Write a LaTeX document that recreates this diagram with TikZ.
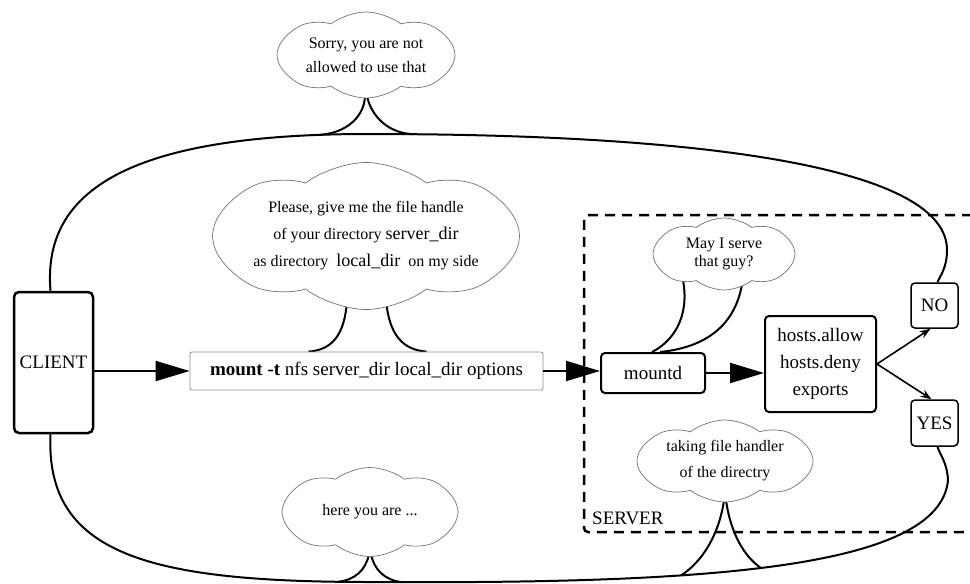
\documentclass[tikz,border=0pt]{standalone}
\usepackage{fontspec}
\setmainfont{Liberation Serif}
\usetikzlibrary{shapes.symbols,arrows.meta,calc}
\pgfdeclarelayer{background}
\pgfsetlayers{background,main}

\begin{document}
\begin{tikzpicture}[x=1pt,y=-1pt,
  box/.style={draw, line width=2pt, rounded corners=4pt, fill=white, inner sep=0pt,
              font=\fontsize{19}{27}\selectfont, align=center},
  thought/.style={cloud, cloud puffs=8, cloud puff arc=75, cloud ignores aspect,
              draw=black!55, line width=0.7pt, fill=white, inner sep=0pt,
              font=\fontsize{16}{24}\selectfont, align=center},
  loopline/.style={line width=2pt},
  tail/.style={line width=2pt},
  bigarrow/.style={line width=2pt, -{Triangle[length=34pt,width=20pt]}},
  smallarrow/.style={line width=1.6pt, -{Stealth[length=11pt,width=8pt]}},
  serverline/.style={line width=2.5pt, dash pattern=on 10pt off 7pt}
]
\useasboundingbox (0,0) rectangle (970,584);

% boxes
\node[box, line width=2.5pt, rounded corners=5pt, minimum width=79pt, minimum height=141pt]
  (client) at (53.5,362.5) {CLIENT};
\node[box, draw=black!45, line width=0.8pt, rounded corners=2pt, minimum width=353pt, minimum height=38pt]
  (mount) at (366.5,371) {\textbf{mount -t} nfs server\_dir local\_dir options};
\node[box, minimum width=104pt, minimum height=40pt] (mountd) at (653,373) {mountd};
\node[box, minimum width=111pt, minimum height=96pt] (hosts) at (820.5,364)
  {hosts.allow\\hosts.deny\\exports};
\node[box, line width=1.5pt, minimum width=47pt, minimum height=45pt] (no) at (934.5,305.5) {NO};
\node[box, line width=1.5pt, minimum width=47pt, minimum height=46pt] (yes) at (934.5,423) {YES};

% thought clouds
\node[thought, minimum width=178pt, minimum height=86pt, font=\fontsize{16}{24}\selectfont]
  (sorry) at (366,55) {Sorry, you are not\\allowed to use that};
\node[thought, minimum width=277pt, minimum height=147pt, font=\fontsize{16}{27}\selectfont]
  (please) at (366,236) {Please, give me the file handle\\
  of your directory {\fontsize{18}{27}\selectfont server\_dir}\\
  as directory\ \ {\fontsize{18}{27}\selectfont local\_dir}\ \ on my side};
\node[thought, minimum width=142pt, minimum height=72pt, font=\fontsize{16}{18}\selectfont]
  (may) at (724,254) {May I serve\\that guy?};
\node[thought, minimum width=176pt, minimum height=82pt, font=\fontsize{16}{26}\selectfont]
  (take) at (725,461) {taking file handler\\of the directry};
\node[thought, minimum width=176pt, minimum height=89pt]
  (here) at (370,512) {here you are ...};

\node[font=\fontsize{19}{19}\selectfont, anchor=base west, inner sep=0pt] (srv) at (592,524) {SERVER};

% request flow
\draw[bigarrow] (client.east |- mount.west) -- (mount.west);
\draw[bigarrow] (mount.east) -- (mount.east -| mountd.west);
\draw[bigarrow] (mountd.east) -- (mountd.east -| hosts.west);
\draw[smallarrow] (hosts.east) -- ($(no.south)+(-4,0)$);
\draw[smallarrow] (hosts.east) -- ($(yes.north)+(-3,0)$);

\begin{pgfonlayer}{background}
  % server frame
  \draw[serverline, rounded corners=4pt] (972,215) -- (584,215) -- (584,532) -- (972,532);

  % refusal loop back to the client
  \draw[loopline] ($(client.north)+(-3,0)$) .. controls (42,190) and (130,134) .. (368,134)
      coordinate[pos=0.93] (sorryL)
    .. controls (720,134) and (947,170) .. (947,250)
      coordinate[pos=0.045] (sorryR)
    .. controls (947,268) and (940,276) .. ($(no.north)+(3,0)$);

  % answer loop back to the client
  \draw[loopline] ($(client.south)+(-3,0)$) .. controls (45,555) and (150,582) .. (370,582)
      coordinate[pos=0.95] (hereL)
    .. controls (700,584) and (940,570) .. (948,480)
      coordinate[pos=0.032] (hereR)
      coordinate[pos=0.355] (takeL)
      coordinate[pos=0.47] (takeR)
    .. controls (947,462) and (940,455) .. ($(yes.south)+(3,0)$);

  % cloud tails
  \draw[tail] ($(sorry.south)+(-1,-2)$) .. controls (364,118) and (345,133) .. (sorryL);
  \draw[tail] ($(sorry.south)+(1,-2)$) .. controls (372,118) and (390,134) .. (sorryR);

  \draw[tail] ($(please.south)+(-19,-10)$) .. controls (345,335) and (332,350) .. ($(mount.north)+(-58,0)$);
  \draw[tail] ($(please.south)+(20,-10)$) .. controls (389,335) and (403,350) .. ($(mount.north)+(60,0)$);

  \draw[tail] ($(may.south)+(-41,-10)$) .. controls (690,318) and (672,342) .. ($(mountd.north)+(-1,0)$);
  \draw[tail] ($(may.south)+(18,-6)$) .. controls (734,330) and (700,348) .. ($(mountd.north)+(7,0)$);

  \draw[tail] ($(take.south)+(-1,-2)$) .. controls (719,535) and (702,562) .. (takeL);
  \draw[tail] ($(take.south)+(1,-2)$) .. controls (731,535) and (745,557) .. (takeR);

  \draw[tail] ($(here.south)+(-1,-3)$) .. controls (366,570) and (355,580) .. (hereL);
  \draw[tail] ($(here.south)+(1,-3)$) .. controls (374,570) and (385,580) .. (hereR);
\end{pgfonlayer}
\end{tikzpicture}
\end{document}
